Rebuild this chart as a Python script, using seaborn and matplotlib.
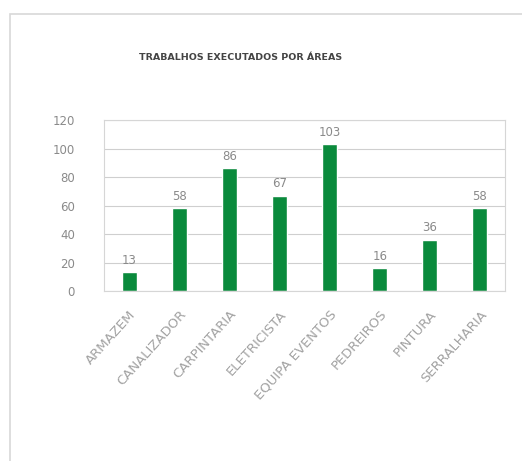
import matplotlib
matplotlib.use("Agg")
import matplotlib.pyplot as plt
import matplotlib.patches as mpatches
import seaborn as sns
import pandas as pd

categories = ["ARMAZEM", "CANALIZADOR", "CARPINTARIA", "ELETRICISTA",
              "EQUIPA EVENTOS", "PEDREIROS", "PINTURA", "SERRALHARIA"]
values = [13, 58, 86, 67, 103, 16, 36, 58]
yticks = [0, 20, 40, 60, 80, 100, 120]
title = "TRABALHOS EXECUTADOS POR ÁREAS"

sns.set_theme(style="white")
plt.rcParams['font.family'] = ['DejaVu Sans']

df = pd.DataFrame({"cat": categories, "val": values})

fig = plt.figure(figsize=(5.22, 4.61), dpi=100)
fig.patch.set_facecolor("white")
# outer frame
fig.patches.append(mpatches.Rectangle((10/522, -0.05), 1.2, 1 - 14/461 + 0.05,
                                      transform=fig.transFigure, fill=False,
                                      edgecolor="#d8d8d8", linewidth=1.2))

ax = fig.add_axes([104/522, 1 - 291/461, 401/522, 171/461])
sns.barplot(data=df, x="cat", y="val", color="#0a8a3c", width=0.3,
            saturation=1, ax=ax)
ax.set_ylim(0, 120)
ax.set_yticks(yticks)
ax.set_yticklabels([str(t) for t in yticks], color="#8a8a8a", fontsize=8.5)
ax.set_xlabel("")
ax.set_ylabel("")
ax.set_xticks(range(len(categories)))
ax.set_xticklabels(categories, rotation=48, ha="right", rotation_mode="anchor",
                   color="#a2a2a2", fontsize=9.5)
ax.tick_params(axis="y", length=0, pad=21)
ax.tick_params(axis="x", length=0, pad=12)
ax.yaxis.grid(True, color="#cfcfcf", linewidth=0.8)
ax.set_axisbelow(True)
for s in ax.spines.values():
    s.set_color("#d6d6d6")
    s.set_linewidth(0.8)

for i, v in enumerate(values):
    ax.text(i, v + 4, str(v), ha="center", va="bottom", fontsize=8.5, color="#8a8a8a")

fig.text(0.46, 1 - 58/461, title, ha="center", va="center", fontsize=6.8,
         fontweight="bold", color="#444444")

fig.savefig("out.png", dpi=100)
